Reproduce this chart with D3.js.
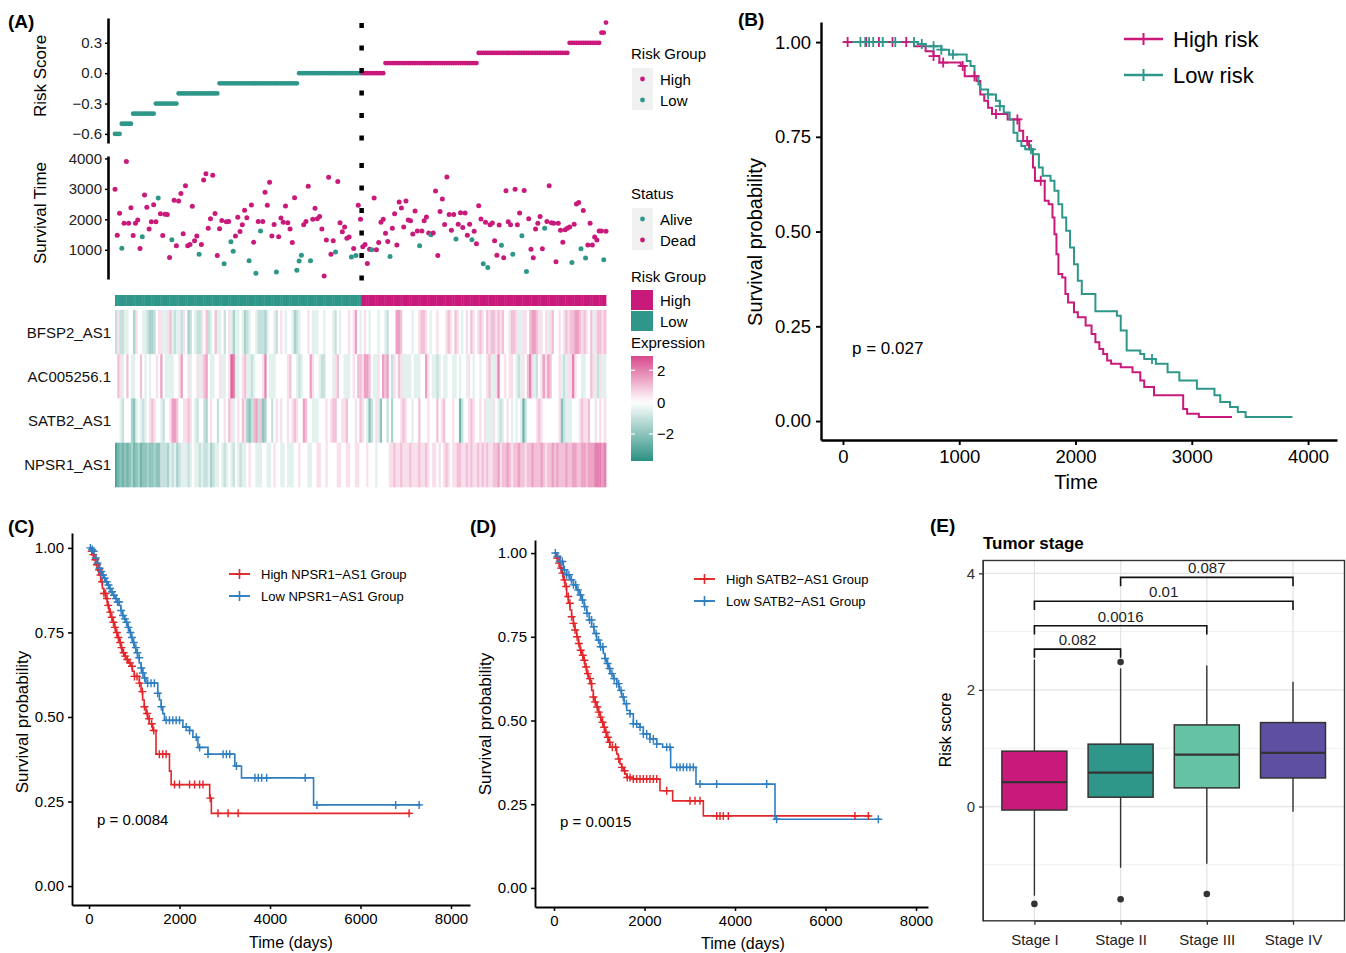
<!DOCTYPE html>
<html>
<head>
<meta charset="utf-8">
<script src="https://cdn.jsdelivr.net/npm/d3@7"></script>
<style>
  body { margin: 0; background: #fff; }
  svg { display: block; font-family: "Liberation Sans", Arial, Helvetica, sans-serif; }
</style>
</head>
<body>
<div id="chart"></div>
<script>
// ---------------- Panel A data ----------------
// risk score of patients, sorted, as runs of equal (rounded) score
const riskLevels = [-0.6, -0.5, -0.4, -0.3, -0.2, -0.1, 0.0, 0.0, 0.1, 0.2, 0.3, 0.4, 0.5];
const riskCounts = [3, 5, 10, 10, 18, 35, 28, 10, 41, 40, 14, 2, 1];
const riskRunGroup = ["Low", "Low", "Low", "Low", "Low", "Low", "Low", "High", "High", "High", "High", "High", "High"];

// survival time (days) per patient in risk order, and status (1 = dead, 0 = alive)
const survTime = [
  2990,1480,2200,1050,1870,3900,1870,2380,1470,1870, 1980,1040,1430,2800,2400,1680,1920,2480,1920,2700,
  2180,1470,2170,2160,750,1330,2630,1130,2600,2850, 1530,3100,1130,1170,2430,1300,1450,850,1170,3290,
  3500,1710,2020,3450,2190,810,1690,1960,540,1920, 1930,1260,950,1450,2070,1600,1820,2300,2050,640,
  2470,1250,225,1930,1620,1930,2890,2460,3220,1450, 1830,270,1430,2040,1900,2440,1890,1680,1240,2710,
  330,630,820,1820,1930,3090,640,2000,2360,2020, 2090,1680,135,1320,3380,850,1300,930,3240,1890,
  1590,1750,1380,1420,760,1040,810,2460,2000,
  1100,1170,550,1020,1000,2700,1000,1240,1900,2000, 1540,1270,780,1710,2180,1160,2570,2370,1750,2600,
  1980,1950,1520,2270,1620,1130,1620,1950,2080,1550, 1490,1550,2930,810,2260,2670,1830,3390,2160,1640,
  2160,1350,1840,2220,1730,2210,1480,1840,1330,1610, 1200,2450,2010,540,1900,420,1820,1880,1300,820,
  1810,1150,740,2940,1920,1820,850,2990,1820,2210, 1460,2950,290,2020,1020,740,1680,1870,2090,1030,
  1710,1930,3100,1890,1870,610,1870,1640,1250,1660, 1710,1750,580,1840,2500,2550,1030,2290,730,1160,
  1870,1160,1420,1320,1620,1620,670,1610
];
const survDead = [
  1,1,1,0,1,1,1,1,1,1, 1,1,0,1,1,1,1,1,1,0, 1,1,1,1,1,0,1,1,1,1, 1,1,1,1,1,1,1,0,1,1,
  1,1,1,1,1,1,1,1,0,1, 1,0,0,1,1,1,1,1,1,0, 1,1,0,1,0,1,1,1,1,1, 1,0,1,1,1,1,1,1,1,1,
  0,0,0,1,1,1,0,1,1,1, 1,1,1,1,1,1,1,0,1,1, 1,1,1,1,0,1,0,1,1,
  1,1,1,1,0,1,1,1,1,1, 1,1,0,1,1,1,1,1,1,1, 1,1,1,1,1,0,1,1,1,1, 0,1,1,1,1,1,1,1,1,1,
  1,0,1,1,1,1,1,1,0,1, 1,1,1,0,1,0,1,1,1,1, 1,0,1,1,1,1,0,1,1,1, 0,1,0,1,1,1,1,1,1,1,
  0,1,1,1,1,1,1,1,1,1, 1,1,0,1,1,1,0,1,0,1, 1,1,1,1,1,1,0,1
];

// heatmap: scaled expression per patient (same order)
const genes = ["BFSP2_AS1", "AC005256.1", "SATB2_AS1", "NPSR1_AS1"];
const hmBFSP2 = [
  -1,0.5,-1,-1,-0.5,-0.5,0,0,-1.5,0.5, 0,0,-0.5,-0.5,-1,-1.5,-1.5,-1,0,0.5, 0.5,-0.5,-0.5,0.5,1,-0.5,-1,-0.5,-0.5,-1,
  0.5,0,-1.5,-1,0,-0.5,-1,-1,0.5,0, 1,-1,-0.5,0,1,-0.5,-0.5,0,-1,0, 0.5,-0.5,-1.5,-0.5,-0.5,0,
  -0.5,-1.5,-1,-0.5,0,0,-0.5,-1,-1,-1, -1.5,-0.5,0,0,-0.5,-1,0,0.5,0,-0.5, 0,0,-0.5,-1.5,-1,-0.5,0,0,0,0.5,
  0,-0.5,-0.5,-0.5,0,0,-0.5,0,0,0, -0.5,-1,0,-0.5,0,0,0,0.5,0,0.5, 1.5,0,-0.5,0,
  0.5,0,-0.5,0,0,0,-0.5,0,0,-0.5, -1,0,0,0,1.5,1.5,1,0,0,0, 0,-0.5,0,0,0.5,1,1,0.5,0,-0.5,
  0,0,0.5,0,0,0,0.5,1,0.5,0, 1,0.5,0,-0.5,0,0.5,0,1,0.5,0, 0.5,1,0.5,0,
  1,0.5,1,1,0.5,1,0.5,1,0,0, 0.5,1,1,0.5,-0.5,-0.5,0.5,0.5,0,1, 1.5,1.5,1,0.5,0.5,0,0.5,-0.5,0.5,1,
  0,0,0.5,0,0.5,1,0.5,1,1,1.5, 1.5,1,0.5,1,0.5,0,1,-0.5,0.5,1, 1,0.5,1
];
const hmAC005256 = [
  0,1,0.5,-0.5,0,1,0,-0.5,-0.5,0, 0,1,0,-0.5,0,-0.5,0,0,0.5,0, 1.5,0,-0.5,-0.5,-0.5,-0.5,0,0,0.5,1.5,
  0,0,0.5,-0.5,0,0,0.5,-0.5,0.5,1, 1.5,0,-0.5,-0.5,0,0,0.5,-0.5,-0.5,0, 0.5,2.5,2,-0.5,-0.5,0,
  0.5,1,-0.5,-0.5,-1,-0.5,0,0,0,0.5, 2,0,-0.5,-0.5,-0.5,0,0,0,0,0, 0.5,1,0,0,-0.5,-1,-0.5,0,0,0,
  1.5,0.5,0,0,-0.5,-1,-1,0,0,0, -0.5,0.5,1,0,0,-0.5,-0.5,-0.5,0,0.5, 0,1,1,0.5,
  1.5,1.5,1,0,-0.5,-0.5,0.5,0,1.5,1, 1.5,0,-1,0.5,0,1,0.5,-0.5,-0.5,-0.5, -0.5,0,-0.5,-0.5,-0.5,0,0,1.5,0.5,0,
  -0.5,-0.5,-1,-0.5,0,-0.5,-0.5,0,0,-0.5, -0.5,0,-0.5,0,0,-0.5,0.5,0,-0.5,0, 0,-0.5,0,0,
  0.5,1,-0.5,-0.5,0.5,2,0,0,0.5,0, 0.5,0.5,0,-0.5,-1,-0.5,0.5,0,1,2, 0.5,-0.5,-1,0,0.5,1.5,0.5,1.5,1,0,
  0,0,0.5,-0.5,-1,-0.5,0.5,0.5,2,0.5, 0,0,-0.5,-0.5,0,0,1,0.5,-0.5,-1, 0.5,-0.5,-0.5
];
const hmSATB2 = [
  0,0,-0.5,-1,0,0,0,-1.5,-2,-0.5, 0,-0.5,-1,-0.5,0,0.5,1,0.5,0,0, -0.5,-1,0,0,0.5,1.5,1.5,1,0,0,
  0.5,0.5,1,0.5,0,-0.5,-1,0,0,-1, -1.5,0,0.5,0,0,-1,0,0,0.5,0, 1,0.5,-0.5,0,0.5,0,
  1,0.5,-1.5,-2,-1,1,1.5,-1,1,-2, -1.5,0,0,-1,0,0.5,0,0.5,0,0, 0.5,0,0.5,1,0.5,0,0,1.5,1,0,
  0,-0.5,-0.5,-0.5,0,0,0,0.5,0,0.5, 1,1,0,0,0.5,0.5,1,0,0,0, 0.5,0,1,0.5,
  0,-0.5,-2,-1,0,0.5,-0.5,-2,0,0, -1,0,-1.5,0,0,0,0.5,1,0.5,0, 0,-0.5,0,0,1,0,0,0,0.5,0,
  0,0,1,0,0.5,1,0,0,0,0.5, 0,0,-2.5,-1,0,0,0.5,1,0.5,0, 0,0.5,0,0.5,
  -0.5,-0.5,-0.5,0.5,0,-0.5,-1,-0.5,0,0.5, 0,-0.5,0,-0.5,0,-0.5,-2.5,-1,0,0, 0,0,0.5,1,0.5,0,0,0,0,0,
  0,0,0.5,-2,-1,-0.5,-0.5,-0.5,0,0, 0,0.5,1,0.5,0.5,1,0,0,0.5,0, 0.5,0,0.5
];
const hmNPSR1 = [
  -3,-2.5,-2,-2.5,-2,-2.5,-2,-1.5,-2.5,-2, -1.5,-2.5,-2,-2,-1.5,-2,-2,-1.5,-2,-2, -1,-1,-1,-1.5,-0.5,-1,-0.5,-1.5,-1,-0.5,
  -0.5,-0.5,-1,-0.5,0,-0.5,-0.5,-1,-0.5,-1, -1,-0.5,-1.5,-1,-0.5,-0.5,0,-0.5,-1,-0.5, 0,-0.5,-1,0,-0.5,-1,
  -0.5,-0.5,0,0.5,0,0,-0.5,-0.5,-0.5,0, 0,-0.5,-0.5,0,0.5,0,0,-0.5,-0.5,0, -0.5,-0.5,-0.5,0,0,0.5,0,0,0,-0.5,
  -0.5,0,0,0.5,0.5,0,0,0.5,0,0, 0,0,0.5,0.5,0,0,0.5,0.5,0,0, 0.5,0.5,0,0,
  0,0.5,0,0,0,-0.5,0,0,0,0, 0,0.5,0.5,1,0.5,0.5,1,0.5,0.5,0.5, 1,0.5,0.5,0.5,1,0.5,0.5,1,0.5,0,
  0.5,0.5,0,0.5,0,0.5,1,0.5,0,0.5, 0.5,1,1,0.5,0.5,1,0.5,1,0.5,0.5, 1,0.5,1,0.5,
  1,0.5,0.5,1,1,1.5,0.5,1,1,1.5, 1,0.5,1,1,1.5,1,1,0.5,1,1, 1.5,1,1,1,1.5,1,0.5,1,1,1.5,
  1,1.5,1,1,1,1.5,1,1,1.5,1.5, 1,1,1.5,1.5,1,1.5,1.5,1.5,2,2, 2,1.5,2
];
const exprRange = [-3.7, 2.9];
const exprTicks = [2, 0, -2];

// ---------------- Panel B data (KM, risk groups) ----------------
const bHighTime = [0,611,711,779,829,1013,1047,1148,1181,1215,1248,1282,1416,1517,1550,1601,1634,1651,1735,1769,1802,1819,1836,1853,1886,1913,1936,1987,2020,2087,2138,2171,2205,2238,2272,2306,2389,2490,2557,2591,2675,2926,2960,3061,3346];
const bHighSurv = [1,0.989,0.976,0.963,0.946,0.937,0.91,0.897,0.862,0.845,0.827,0.81,0.796,0.766,0.739,0.717,0.669,0.634,0.581,0.572,0.537,0.493,0.44,0.388,0.379,0.335,0.313,0.287,0.274,0.252,0.23,0.208,0.19,0.177,0.16,0.151,0.142,0.129,0.107,0.09,0.068,0.032,0.019,0.0105,0.0105];
const bHighCens = [40,200,309,426,544,779,862,1030,1131,1316,1500,1584,1701];
const bLowTime = [0,644,711,846,913,1064,1097,1131,1165,1181,1248,1316,1349,1383,1433,1467,1500,1534,1567,1634,1685,1718,1785,1819,1853,1886,1920,1953,1987,2020,2054,2171,2356,2389,2440,2557,2591,2691,2792,2893,3044,3195,3245,3329,3396,3463,3866];
const bLowSurv = [1,0.995,0.989,0.98,0.967,0.95,0.937,0.91,0.888,0.875,0.862,0.845,0.831,0.814,0.796,0.761,0.739,0.726,0.717,0.704,0.669,0.647,0.634,0.608,0.572,0.537,0.502,0.458,0.414,0.37,0.335,0.29,0.278,0.239,0.186,0.177,0.164,0.151,0.129,0.107,0.085,0.068,0.05,0.037,0.024,0.0105,0.0105];
const bLowCens = [150,191,225,260,342,450,611,678,779,846,946,1248,1349,1617,2658];

// ---------------- Panel C data (NPSR1-AS1) ----------------
const cHighTime = [0,40,74,110,148,185,222,260,296,330,370,405,444,480,519,555,593,630,667,705,741,780,815,870,926,960,1000,1111,1150,1185,1220,1259,1300,1333,1407,1481,1778,1815,2667,2704,7111];
const cHighSurv = [1,0.99,0.98,0.965,0.95,0.935,0.92,0.9,0.88,0.865,0.85,0.83,0.81,0.795,0.78,0.765,0.75,0.735,0.72,0.705,0.69,0.68,0.67,0.66,0.65,0.635,0.62,0.6,0.575,0.55,0.53,0.51,0.495,0.48,0.46,0.39,0.34,0.3,0.26,0.215,0.215];
const cHighCens = [60,95,140,175,220,255,290,330,365,400,425,470,505,540,575,615,650,690,720,765,800,845,905,950,1005,1060,1115,1180,1225,1285,1330,1385,1430,1555,1630,1704,1890,2000,2222,2333,2444,2519,2680,2850,3074,3296,7074];
const cLowTime = [0,40,74,110,148,185,222,260,296,330,370,405,444,480,519,555,593,630,667,705,741,780,815,850,889,926,963,1000,1037,1075,1111,1150,1185,1220,1259,1519,1556,1593,1630,1667,2074,2222,2296,2407,2630,3222,3370,4963,7333];
const cLowSurv = [1,0.995,0.99,0.98,0.97,0.955,0.94,0.93,0.92,0.91,0.9,0.89,0.88,0.87,0.86,0.855,0.85,0.84,0.83,0.815,0.8,0.79,0.78,0.765,0.75,0.735,0.72,0.705,0.69,0.675,0.66,0.645,0.63,0.615,0.6,0.57,0.55,0.53,0.51,0.49,0.47,0.46,0.44,0.41,0.39,0.355,0.32,0.24,0.24];
const cLowCens = [30,70,105,150,190,235,270,310,345,390,430,465,510,550,595,630,665,710,750,795,830,870,915,950,990,1035,1070,1110,1155,1190,1230,1296,1370,1444,1519,1600,1704,1778,1852,1926,2000,2148,2222,2370,2444,2630,2963,3037,3111,3259,3667,3741,3815,3926,4778,5037,6778,7296];

// ---------------- Panel D data (SATB2-AS1) ----------------
const dHighTime = [0,50,96,130,169,205,243,280,317,354,390,427,464,501,538,575,612,648,685,722,760,796,832,869,906,943,980,1017,1054,1090,1127,1164,1200,1237,1385,1420,1458,1495,1532,1570,1606,1753,2342,2622,3300,6983];
const dHighSurv = [1,0.985,0.97,0.955,0.94,0.92,0.9,0.87,0.85,0.83,0.81,0.79,0.77,0.75,0.73,0.71,0.695,0.68,0.66,0.64,0.625,0.61,0.59,0.57,0.555,0.54,0.525,0.51,0.495,0.48,0.465,0.45,0.435,0.42,0.4,0.385,0.37,0.36,0.35,0.34,0.33,0.325,0.29,0.26,0.215,0.215];
const dHighCens = [70,110,155,190,230,270,315,350,390,430,465,510,550,590,635,670,710,750,795,830,870,910,955,990,1030,1075,1110,1150,1190,1230,1290,1360,1430,1500,1560,1620,1680,1753,1827,1901,1974,2048,2121,2195,2269,2490,3005,3116,3226,3595,3668,3742,3852,6651,6946];
const dLowTime = [0,60,130,206,280,354,430,501,560,611,665,722,777,832,887,943,1017,1090,1127,1164,1200,1237,1310,1385,1440,1495,1550,1606,1680,1753,1900,1974,2121,2269,2400,2578,3138,4884,7204];
const dLowSurv = [1,0.99,0.975,0.95,0.935,0.92,0.905,0.89,0.875,0.86,0.84,0.82,0.8,0.78,0.76,0.74,0.72,0.7,0.685,0.67,0.655,0.64,0.625,0.61,0.59,0.57,0.55,0.53,0.52,0.49,0.48,0.46,0.445,0.43,0.42,0.36,0.31,0.205,0.205];
const dLowCens = [30,80,130,185,230,280,330,385,430,480,530,585,630,680,730,785,830,880,930,985,1030,1080,1130,1185,1230,1280,1330,1385,1430,1480,1530,1600,1680,1753,1827,1901,1974,2048,2121,2195,2269,2490,2563,2711,2785,2858,2932,3005,3079,3226,3595,4700,4920,7167];

// ---------------- Panel E data (tumor stage boxplots) ----------------
const stages = ["Stage I", "Stage II", "Stage III", "Stage IV"];
const boxQ1 = [-0.06, 0.16, 0.32, 0.49];
const boxMed = [0.42, 0.58, 0.89, 0.92];
const boxQ3 = [0.95, 1.07, 1.40, 1.44];
const boxLo = [-1.53, -1.05, -0.98, -0.09];
const boxHi = [2.52, 2.37, 2.42, 2.14];
const boxOut = [[-1.67], [2.48, -1.59], [-1.50], []];
const cmpPairs = [[0, 1], [0, 2], [0, 3], [1, 3]];
const cmpLabels = ["0.082", "0.0016", "0.01", "0.087"];
const cmpY = [2.70, 3.10, 3.52, 3.93];

// ---------------- colours ----------------
const MAG = "#C9197B", TEAL = "#2F978A";
const KM_RED = "#E2262A", KM_BLUE = "#2F7EC1";
const stageColors = ["#C9197B", "#2F978A", "#66C2A5", "#5E4FA2"];

const svg = d3.select("#chart").append("svg").attr("width", 1346).attr("height", 953);

function styleAxis(g, o) {
  g.attr("font-size", null).attr("font-family", null);
  g.select(".domain").attr("stroke", o.line || "#000").attr("stroke-width", o.lw || 1);
  g.selectAll(".tick line").attr("stroke", o.line || "#000").attr("stroke-width", o.tw || 1);
  g.selectAll(".tick text").attr("fill", o.color || "#000").style("font-size", o.size + "px");
}
function label(x, y, txt, size, opts = {}) {
  const t = svg.append("text").attr("x", x).attr("y", y).text(txt)
    .style("font-size", size + "px").attr("fill", opts.fill || "#000");
  if (opts.anchor) t.attr("text-anchor", opts.anchor);
  if (opts.bold) t.style("font-weight", "bold");
  if (opts.rotate) t.attr("transform", `rotate(-90,${x},${y})`);
  if (opts.mid) t.attr("dominant-baseline", "central");
  return t;
}

// ================= PANEL A =================
label(8, 28, "(A)", 19, { bold: true });

const patients = [];
riskLevels.forEach((lv, i) => {
  for (let k = 0; k < riskCounts[i]; k++) patients.push({ risk: lv, group: riskRunGroup[i] });
});
patients.forEach((p, i) => { p.time = survTime[i]; p.dead = survDead[i]; });
const N = patients.length;
const nLow = patients.filter(p => p.group === "Low").length;

const xA = d3.scaleLinear().domain([0, N - 1]).range([115, 606]);
const yRisk = d3.scaleLinear().domain([-0.69, 0.545]).range([143, 18]);
const ySurvA = d3.scaleLinear().domain([40, 4080]).range([279, 156]);
const cutX = (xA(nLow - 1) + xA(nLow)) / 2;

const gRiskAx = svg.append("g").attr("transform", "translate(108,0)")
  .call(d3.axisLeft(yRisk).tickValues([-0.6, -0.3, 0, 0.3]).tickFormat(d3.format(".1f")).tickSize(3).tickSizeOuter(0).tickPadding(3));
styleAxis(gRiskAx, { lw: 2.6, tw: 1.5, size: 15, color: "#222" });

svg.append("g").selectAll("circle").data(patients).join("circle")
  .attr("cx", (d, i) => xA(i)).attr("cy", d => yRisk(d.risk)).attr("r", 2.4)
  .attr("fill", d => d.group === "High" ? MAG : TEAL);

label(40, 76, "Risk Score", 17, { anchor: "middle", rotate: true, mid: true });

const gSurvAx = svg.append("g").attr("transform", "translate(108,0)")
  .call(d3.axisLeft(ySurvA).tickValues([1000, 2000, 3000, 4000]).tickFormat(d3.format("d")).tickSize(3).tickSizeOuter(0).tickPadding(3));
styleAxis(gSurvAx, { lw: 2.6, tw: 1.5, size: 15, color: "#222" });

svg.append("g").selectAll("circle").data(patients).join("circle")
  .attr("cx", (d, i) => xA(i)).attr("cy", d => ySurvA(d.time)).attr("r", 2.5)
  .attr("fill", d => d.dead ? MAG : TEAL);

label(40, 213, "Survival Time", 17, { anchor: "middle", rotate: true, mid: true });

// cut-off line
[[23, 142], [163, 281]].forEach(([a, b]) => {
  svg.append("line").attr("x1", cutX).attr("x2", cutX).attr("y1", a).attr("y2", b)
    .attr("stroke", "#000").attr("stroke-width", 4.5).attr("stroke-dasharray", "5,17.5");
});

// heatmap
const xH = d3.scaleBand().domain(d3.range(N)).range([115, 606]);
const yH = d3.scaleBand().domain(genes).range([310, 487]);
const exprColor = d3.scaleLinear().domain([exprRange[0], 0, exprRange[1]]).range(["#2B9083", "#FFFFFF", "#D9488C"]).clamp(true);
const hmRows = [hmBFSP2, hmAC005256, hmSATB2, hmNPSR1];

svg.append("g").selectAll("rect").data(patients).join("rect")
  .attr("x", (d, i) => xH(i)).attr("y", 295).attr("width", xH.bandwidth() + 0.4).attr("height", 11)
  .attr("fill", d => d.group === "High" ? MAG : TEAL);

const cells = [];
hmRows.forEach((row, r) => row.forEach((v, i) => cells.push({ gene: genes[r], i, v })));
svg.append("g").selectAll("rect").data(cells).join("rect")
  .attr("x", d => xH(d.i)).attr("y", d => yH(d.gene))
  .attr("width", xH.bandwidth() + 0.4).attr("height", yH.bandwidth() + 0.3)
  .attr("fill", d => exprColor(d.v));

genes.forEach(g => label(111, yH(g) + yH.bandwidth() / 2, g, 15, { anchor: "end", mid: true, fill: "#111" }));

// legends of panel A
label(631, 59, "Risk Group", 15);
svg.append("rect").attr("x", 632).attr("y", 68).attr("width", 21).attr("height", 42).attr("fill", "#f0f0f0");
[["High", MAG], ["Low", TEAL]].forEach(([t, c], k) => {
  svg.append("circle").attr("cx", 642.5).attr("cy", 79 + 21 * k).attr("r", 2.4).attr("fill", c);
  label(660, 79 + 21 * k, t, 15, { mid: true });
});
label(631, 199, "Status", 15);
svg.append("rect").attr("x", 632).attr("y", 208).attr("width", 21).attr("height", 42).attr("fill", "#f0f0f0");
[["Alive", TEAL], ["Dead", MAG]].forEach(([t, c], k) => {
  svg.append("circle").attr("cx", 642.5).attr("cy", 219 + 21 * k).attr("r", 2.4).attr("fill", c);
  label(660, 219 + 21 * k, t, 15, { mid: true });
});
label(631, 282, "Risk Group", 15);
[["High", MAG], ["Low", TEAL]].forEach(([t, c], k) => {
  svg.append("rect").attr("x", 631).attr("y", 290 + 21 * k).attr("width", 22).attr("height", 20).attr("fill", c);
  label(660, 300 + 21 * k, t, 15, { mid: true });
});
label(631, 348, "Expression", 15);
const yCb = d3.scaleLinear().domain(exprRange).range([461, 356]);
const grad = svg.append("defs").append("linearGradient").attr("id", "cb").attr("x1", 0).attr("x2", 0).attr("y1", 1).attr("y2", 0);
d3.range(0, 1.001, 0.05).forEach(f => {
  const v = exprRange[0] + f * (exprRange[1] - exprRange[0]);
  grad.append("stop").attr("offset", f).attr("stop-color", exprColor(v));
});
svg.append("rect").attr("x", 631).attr("y", 356).attr("width", 22).attr("height", 105).attr("fill", "url(#cb)");
exprTicks.forEach(t => {
  svg.append("line").attr("x1", 631).attr("x2", 635).attr("y1", yCb(t)).attr("y2", yCb(t)).attr("stroke", "#fff").attr("stroke-width", 1.2);
  svg.append("line").attr("x1", 649).attr("x2", 653).attr("y1", yCb(t)).attr("y2", yCb(t)).attr("stroke", "#fff").attr("stroke-width", 1.2);
  label(657, yCb(t), d3.format("d")(t), 15, { mid: true });
});

// ================= KM helper =================
function stepAt(times, surv, t) {
  const i = d3.bisectRight(times, t) - 1;
  return surv[Math.max(0, i)];
}
function plus(g, x, y, s, color, w) {
  g.append("path").attr("d", `M${x - s},${y}H${x + s}M${x},${y - s}V${y + s}`)
    .attr("stroke", color).attr("stroke-width", w).attr("fill", "none");
}
function drawKM(o) {
  const g = svg.append("g");
  const gx = g.append("g").attr("transform", `translate(0,${o.y.range()[0]})`)
    .call(d3.axisBottom(o.x).tickValues(o.xTicks).tickFormat(d3.format("d")).tickSize(o.tick).tickSizeOuter(0).tickPadding(o.pad));
  styleAxis(gx, { lw: o.lw, tw: o.lw * 0.8, size: o.tickFont });
  const gy = g.append("g").attr("transform", `translate(${o.x.range()[0]},0)`)
    .call(d3.axisLeft(o.y).tickValues([0, 0.25, 0.5, 0.75, 1]).tickFormat(d3.format(".2f")).tickSize(o.tick).tickSizeOuter(0).tickPadding(o.pad));
  styleAxis(gy, { lw: o.lw, tw: o.lw * 0.8, size: o.tickFont });
  const line = d3.line().curve(d3.curveStepAfter).x(d => o.x(d[0])).y(d => o.y(d[1]));
  o.curves.forEach(c => {
    g.append("path").datum(d3.zip(c.time, c.surv)).attr("d", line)
      .attr("fill", "none").attr("stroke", c.color).attr("stroke-width", o.curveW);
  });
  o.curves.forEach(c => {
    c.cens.forEach(t => plus(g, o.x(t), o.y(stepAt(c.time, c.surv, t)), o.plusS, c.color, o.curveW * 0.9));
  });
  o.curves.forEach((c, k) => {
    const ly = o.legY + k * o.legGap;
    g.append("line").attr("x1", o.legX).attr("x2", o.legX + o.legLen).attr("y1", ly).attr("y2", ly)
      .attr("stroke", c.color).attr("stroke-width", o.curveW + 0.3);
    plus(g, o.legX + o.legLen / 2, ly, o.plusS + 1, c.color, o.curveW);
    label(o.legX + o.legLen + o.legPad, ly, c.name, o.legFont, { mid: true });
  });
}

// ================= PANEL B =================
label(738, 26, "(B)", 19, { bold: true });
const xB = d3.scaleLinear().domain([-189, 4249]).range([821, 1337]);
const yB = d3.scaleLinear().domain([-0.05, 1.053]).range([440, 22]);
drawKM({
  x: xB, y: yB, xTicks: [0, 1000, 2000, 3000, 4000], tick: 5, pad: 5, lw: 2.4, tickFont: 18.5,
  curveW: 2, plusS: 5,
  curves: [
    { name: "High risk", time: bHighTime, surv: bHighSurv, cens: bHighCens, color: MAG },
    { name: "Low risk", time: bLowTime, surv: bLowSurv, cens: bLowCens, color: TEAL }
  ],
  legX: 1124, legY: 39, legGap: 36, legLen: 39, legPad: 10, legFont: 22
});
label(1076, 489, "Time", 20, { anchor: "middle" });
label(755, 242, "Survival probability", 20, { anchor: "middle", rotate: true, mid: true });
label(852, 354, "p = 0.027", 17);

// ================= PANEL C =================
label(8, 533, "(C)", 19, { bold: true });
const xC = d3.scaleLinear().domain([-376, 8420]).range([72, 470]);
const yC = d3.scaleLinear().domain([-0.056, 1.044]).range([905, 533]);
drawKM({
  x: xC, y: yC, xTicks: [0, 2000, 4000, 6000, 8000], tick: 4, pad: 4, lw: 1.9, tickFont: 15,
  curveW: 1.6, plusS: 4,
  curves: [
    { name: "High NPSR1\u2212AS1 Group", time: cHighTime, surv: cHighSurv, cens: cHighCens, color: KM_RED },
    { name: "Low NPSR1\u2212AS1 Group", time: cLowTime, surv: cLowSurv, cens: cLowCens, color: KM_BLUE }
  ],
  legX: 229, legY: 574, legGap: 22, legLen: 21, legPad: 11, legFont: 13
});
label(291, 948, "Time (days)", 16, { anchor: "middle" });
label(22, 722, "Survival probability", 17, { anchor: "middle", rotate: true, mid: true });
label(97, 825, "p = 0.0084", 15);

// ================= PANEL D =================
label(470, 533, "(D)", 19, { bold: true });
const xD = d3.scaleLinear().domain([-420, 8265]).range([535, 928]);
const yD = d3.scaleLinear().domain([-0.057, 1.039]).range([907, 540]);
drawKM({
  x: xD, y: yD, xTicks: [0, 2000, 4000, 6000, 8000], tick: 4, pad: 4, lw: 1.9, tickFont: 15,
  curveW: 1.6, plusS: 4,
  curves: [
    { name: "High SATB2\u2212AS1 Group", time: dHighTime, surv: dHighSurv, cens: dHighCens, color: KM_RED },
    { name: "Low SATB2\u2212AS1 Group", time: dLowTime, surv: dLowSurv, cens: dLowCens, color: KM_BLUE }
  ],
  legX: 694, legY: 579, legGap: 22, legLen: 21, legPad: 11, legFont: 13
});
label(743, 949, "Time (days)", 16, { anchor: "middle" });
label(485, 724, "Survival probability", 17, { anchor: "middle", rotate: true, mid: true });
label(560, 827, "p = 0.0015", 15);

// ================= PANEL E =================
label(930, 532, "(E)", 19, { bold: true });
label(983, 549, "Tumor stage", 17, { bold: true });
const xE = d3.scalePoint().domain(stages).range([1034.4, 1293]);
const yE = d3.scaleLinear().domain([-1.96, 4.22]).range([920.8, 560.5]);
const pL = 983, pR = 1344.5, pT = yE.range()[1], pB = yE.range()[0];
const gE = svg.append("g");
[-1, 1, 3].forEach(v => gE.append("line").attr("x1", pL).attr("x2", pR).attr("y1", yE(v)).attr("y2", yE(v)).attr("stroke", "#f0f0f0").attr("stroke-width", 1));
[0, 2, 4].forEach(v => gE.append("line").attr("x1", pL).attr("x2", pR).attr("y1", yE(v)).attr("y2", yE(v)).attr("stroke", "#e4e4e4").attr("stroke-width", 1.3));
stages.forEach(s => gE.append("line").attr("x1", xE(s)).attr("x2", xE(s)).attr("y1", pT).attr("y2", pB).attr("stroke", "#e4e4e4").attr("stroke-width", 1.3));

const boxW = 65;
stages.forEach((s, i) => {
  const cx = xE(s);
  gE.append("line").attr("x1", cx).attr("x2", cx).attr("y1", yE(boxHi[i])).attr("y2", yE(boxQ3[i])).attr("stroke", "#333").attr("stroke-width", 1.4);
  gE.append("line").attr("x1", cx).attr("x2", cx).attr("y1", yE(boxQ1[i])).attr("y2", yE(boxLo[i])).attr("stroke", "#333").attr("stroke-width", 1.4);
  gE.append("rect").attr("x", cx - boxW / 2).attr("y", yE(boxQ3[i])).attr("width", boxW).attr("height", yE(boxQ1[i]) - yE(boxQ3[i]))
    .attr("fill", stageColors[i]).attr("stroke", "#333").attr("stroke-width", 1.5);
  gE.append("line").attr("x1", cx - boxW / 2).attr("x2", cx + boxW / 2).attr("y1", yE(boxMed[i])).attr("y2", yE(boxMed[i])).attr("stroke", "#333").attr("stroke-width", 2.2);
  boxOut[i].forEach(v => gE.append("circle").attr("cx", cx).attr("cy", yE(v)).attr("r", 3.3).attr("fill", "#333"));
});
cmpPairs.forEach(([a, b], k) => {
  const xa = xE(stages[a]), xb = xE(stages[b]), yy = yE(cmpY[k]), tip = yE(cmpY[k] - 0.15);
  gE.append("path").attr("d", `M${xa},${tip}V${yy}H${xb}V${tip}`).attr("fill", "none").attr("stroke", "#111").attr("stroke-width", 1.6);
  label((xa + xb) / 2, yy - 4, cmpLabels[k], 15, { anchor: "middle", fill: "#222" });
});
gE.append("rect").attr("x", pL).attr("y", pT).attr("width", pR - pL).attr("height", pB - pT)
  .attr("fill", "none").attr("stroke", "#333").attr("stroke-width", 1.4);
const gEy = svg.append("g").attr("transform", `translate(${pL},0)`)
  .call(d3.axisLeft(yE).tickValues([0, 2, 4]).tickFormat(d3.format("d")).tickSize(4).tickSizeOuter(0).tickPadding(4));
styleAxis(gEy, { line: "#333", lw: 0, tw: 1.3, size: 15, color: "#333" });
const gEx = svg.append("g").attr("transform", `translate(0,${pB})`)
  .call(d3.axisBottom(xE).tickSize(4).tickSizeOuter(0).tickPadding(10));
styleAxis(gEx, { line: "#333", lw: 0, tw: 1.3, size: 15, color: "#222" });
label(945, 730, "Risk score", 16, { anchor: "middle", rotate: true, mid: true });
</script>
</body>
</html>
